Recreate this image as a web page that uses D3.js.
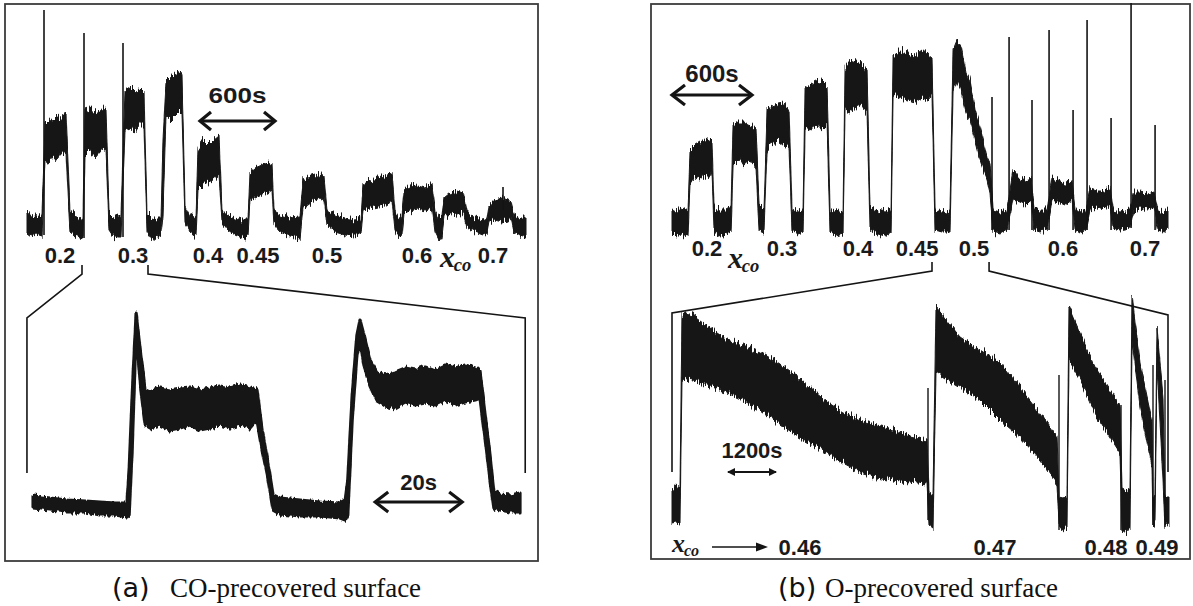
<!DOCTYPE html>
<html>
<head>
<meta charset="utf-8">
<script src="https://cdn.jsdelivr.net/npm/d3@7"></script>
<style>
  body { margin: 0; background: #fff; }
  svg { display: block; }
  .num { font-family: "Liberation Sans", Arial, sans-serif; font-weight: bold; fill: #1a1a1a; }
  .xco { font-family: "Liberation Serif", "Times New Roman", serif; font-style: italic; font-weight: bold; fill: #1a1a1a; }
  .cap { font-family: "Liberation Serif", "Times New Roman", serif; fill: #111; }
  .capTag { font-family: "DejaVu Sans", sans-serif; fill: #111; }
</style>
</head>
<body>
<svg id="fig" width="1193" height="606"></svg>
<script>
// (a) top: time [s], signal low / high envelope [a.u.]
const topA = [
  [0, 7, 28], [32, 4, 23], [72, 6, 24], [120, 4, 26],
  [144, 80, 116], [176, 77, 120], [208, 82, 118], [240, 80, 122], [272, 85, 121], [312, 88, 128],
  [344, 8, 28], [384, 4, 25], [424, 2, 22], [448, 1, 24],
  [464, 85, 130], [504, 90, 132], [544, 82, 128], [584, 88, 130], [632, 92, 133],
  [656, 10, 26], [688, 4, 22], [728, 2, 24], [752, 2, 25],
  [784, 110, 150], [824, 112, 153], [864, 108, 148], [904, 115, 152], [936, 115, 148],
  [960, 8, 27], [1000, 0, 22], [1040, 4, 20], [1072, 6, 20],
  [1088, 25, 100], [1112, 125, 158], [1144, 120, 162], [1184, 125, 165], [1224, 130, 168], [1240, 128, 162],
  [1264, 18, 35], [1304, 8, 25], [1352, 4, 22],
  [1368, 50, 92], [1408, 55, 100], [1448, 58, 95], [1488, 60, 100], [1536, 65, 105],
  [1560, 18, 30], [1608, 10, 25], [1664, 5, 22], [1720, 2, 20], [1768, 4, 20],
  [1784, 40, 68], [1824, 42, 72], [1880, 45, 75], [1928, 47, 77], [1960, 50, 75],
  [1976, 15, 28], [2024, 8, 25], [2104, 4, 22], [2184, 2, 23],
  [2208, 32, 60], [2248, 35, 63], [2304, 40, 65], [2344, 42, 67], [2376, 40, 64],
  [2400, 15, 30], [2464, 8, 25], [2544, 5, 22], [2624, 4, 20], [2672, 8, 22],
  [2688, 30, 55], [2744, 32, 60], [2808, 34, 62], [2864, 35, 64], [2920, 40, 67],
  [2944, 10, 28], [2976, 3, 20], [3000, 4, 25],
  [3016, 28, 50], [3064, 30, 53], [3128, 32, 54], [3184, 30, 52], [3240, 32, 57],
  [3264, 8, 30], [3296, 0, 22], [3320, 4, 25],
  [3336, 22, 42], [3384, 25, 47], [3440, 26, 50], [3488, 28, 48],
  [3520, 12, 28], [3584, 8, 22], [3648, 5, 20], [3680, 7, 22],
  [3696, 18, 35], [3744, 20, 40], [3800, 18, 42], [3848, 20, 40], [3872, 22, 38],
  [3896, 8, 25], [3944, 4, 22], [3992, 2, 22]
];
const topASpikes = [[136, 5, 230], [456, 2, 207], [768, 3, 197], [3808, 30, 53]];
const topALabels = [["0.2", 264], ["0.3", 848], ["0.4", 1448], ["0.45", 1848], ["0.5", 2400], ["0.6", 3120], ["0.7", 3728]];
const topAXco = 3320;

// (a) bottom: zoom on x_co 0.2 - 0.3, time [s]
const bottomA = [
  [0.7, 12, 24], [4.6, 10, 22], [8.5, 8, 20], [12.7, 8, 19], [16.1, 5, 18], [19.6, 5, 17], [22.3, 3, 17],
  [22.8, 5, 50], [23.5, 70, 125], [24.4, 190, 207], [25.5, 130, 165], [26.5, 95, 130],
  [27.6, 92, 128], [29.9, 95, 132], [32.2, 90, 130], [34.5, 92, 132], [36.8, 95, 133], [39.1, 90, 130],
  [41.4, 92, 132], [43.7, 95, 134], [46.0, 92, 132], [48.3, 95, 135], [50.6, 92, 132], [52.2, 100, 130],
  [53.4, 70, 90], [54.7, 42, 58], [55.9, 10, 25],
  [57.5, 6, 22], [62.1, 4, 20], [66.7, 4, 18], [71.3, 2, 17], [72.5, 0, 20],
  [73.1, 5, 40], [74.1, 100, 125], [75.2, 165, 185], [75.9, 180, 200], [76.8, 155, 185], [78.2, 135, 160], [79.8, 120, 148],
  [81.7, 115, 145], [84.0, 112, 148], [86.3, 118, 152], [88.6, 115, 150], [90.9, 117, 154], [93.2, 115, 150],
  [95.5, 120, 155], [97.8, 115, 152], [100.1, 118, 155], [102.4, 120, 152], [103.5, 122, 148],
  [104.7, 80, 105], [105.8, 40, 65], [106.7, 12, 28],
  [108.1, 10, 25], [110.4, 8, 24], [112.7, 8, 26]
];
const zoomA = { top: [440, 968], bottom: [-0.7, 113.9] };

// (b) top
const topB = [
  [15, 8, 30], [45, 4, 28], [83, 6, 32], [135, 4, 28],
  [150, 58, 90], [188, 62, 95], [225, 60, 98], [263, 64, 100], [300, 62, 102], [315, 70, 100],
  [330, 8, 32], [375, 4, 30], [420, 6, 30], [458, 8, 33],
  [473, 75, 115], [510, 80, 118], [555, 75, 118], [600, 80, 115], [645, 72, 112],
  [668, 10, 35], [705, 8, 30],
  [728, 92, 130], [765, 95, 134], [810, 100, 136], [855, 95, 137], [893, 92, 130],
  [915, 10, 32], [960, 6, 29], [998, 8, 30],
  [1013, 112, 152], [1050, 110, 155], [1095, 115, 158], [1140, 110, 160], [1178, 115, 155],
  [1200, 8, 32], [1245, 4, 28], [1298, 6, 30],
  [1313, 130, 172], [1350, 128, 180], [1395, 132, 178], [1440, 135, 176], [1478, 128, 170],
  [1500, 10, 32], [1560, 6, 30], [1613, 4, 28], [1658, 8, 30],
  [1673, 145, 185], [1725, 142, 190], [1785, 140, 188], [1838, 138, 185], [1890, 142, 190], [1935, 140, 185], [1965, 145, 182],
  [1988, 10, 30], [2040, 8, 28], [2100, 8, 30],
  [2123, 150, 190], [2153, 160, 200], [2183, 150, 195], [2220, 128, 168], [2250, 120, 160],
  [2288, 100, 130], [2325, 80, 113], [2378, 60, 83], [2400, 47, 77],
  [2423, 8, 30], [2475, 6, 28], [2528, 10, 30],
  [2573, 40, 70], [2625, 38, 62], [2670, 35, 60], [2708, 40, 62],
  [2730, 10, 32], [2775, 8, 30], [2828, 10, 30],
  [2865, 40, 62], [2910, 38, 60], [2963, 35, 57], [3015, 40, 58],
  [3038, 10, 32], [3075, 7, 28], [3120, 10, 30],
  [3150, 30, 52], [3203, 32, 50], [3255, 30, 50], [3300, 35, 52],
  [3323, 12, 30], [3375, 10, 28], [3450, 12, 30],
  [3480, 30, 48], [3525, 32, 48], [3585, 30, 46], [3630, 32, 48],
  [3660, 10, 30], [3698, 8, 28], [3735, 12, 30]
];
const topBSpikes = [
  [2415, 10, 143], [2543, 10, 203], [2715, 10, 140], [2843, 10, 210], [3023, 10, 130],
  [3128, 10, 220], [3308, 10, 122], [3458, 12, 237], [3638, 10, 115]
];
const topBLabels = [["0.2", 278], ["0.3", 840], ["0.4", 1410], ["0.45", 1853], ["0.5", 2280], ["0.6", 2948], ["0.7", 3563]];
const topBXco = 435;

// (b) bottom: zoom on x_co 0.46 - 0.49
const bottomB = [
  [48, 7, 40], [144, 8, 43], [240, 7, 40],
  [288, 152, 217], [552, 150, 214], [960, 144, 202], [1368, 137, 190], [1752, 130, 185], [2160, 120, 178],
  [2568, 108, 168], [2952, 97, 157], [3360, 87, 142], [3768, 77, 128], [4152, 67, 118], [4560, 58, 110],
  [4968, 53, 104], [5352, 50, 100], [5760, 48, 94], [6168, 46, 90],
  [6216, 5, 37], [6312, 2, 35],
  [6384, 158, 223], [6600, 152, 212], [6960, 143, 193], [7440, 130, 180], [7920, 110, 167],
  [8400, 93, 143], [8880, 70, 117], [9288, 47, 93],
  [9336, 2, 33], [9432, 0, 32], [9528, 3, 34],
  [9576, 170, 223], [9840, 150, 197], [10200, 117, 163], [10560, 93, 140], [10800, 77, 123],
  [10848, 0, 42], [10944, -3, 40], [11040, 2, 42],
  [11088, 190, 235], [11280, 123, 167], [11568, 63, 110],
  [11592, 5, 33], [11640, 8, 32],
  [11688, 167, 203], [11832, 50, 133],
  [11880, 3, 33], [11976, 5, 33]
];
const bottomBSpikes = [[6192, 10, 142], [9336, 0, 155], [10824, 0, 125], [11592, 5, 165], [11880, 3, 150]];
const bottomBLabels = [["0.46", 3120], ["0.47", 7800], ["0.48", 10464], ["0.49", 11688]];
const bottomBArrow = [1008, 2352];
const zoomB = { top: [1965, 2393], bottom: [48, 11952] };

// time bars
const barA600 = [1384, 600];
const barA20 = [79.4, 20];
const barB600 = [15, 600];
const barB1200 = [1368, 1200];

const ink = "#141414";
const svg = d3.select("#fig");

// measured traces are noisy: roughen the band edges vertically
const defs = svg.append("defs");
function roughFilter(id, freq, amount) {
  const f = defs.append("filter").attr("id", id).attr("filterUnits", "userSpaceOnUse")
    .attr("x", 0).attr("y", 0).attr("width", 1193).attr("height", 606);
  f.append("feTurbulence").attr("type", "fractalNoise").attr("baseFrequency", freq)
    .attr("numOctaves", 2).attr("seed", 3).attr("result", "noise");
  f.append("feColorMatrix").attr("in", "noise").attr("type", "matrix")
    .attr("values", "0 0 0 0 0.5  0 1 0 0 0  0 0 1 0 0  0 0 0 0 1").attr("result", "vnoise");
  f.append("feDisplacementMap").attr("in", "SourceGraphic").attr("in2", "vnoise")
    .attr("scale", amount).attr("xChannelSelector", "R").attr("yChannelSelector", "G");
}
roughFilter("rough", "0.9 0.03", 14);
roughFilter("roughThick", "0.5 0.05", 7);

const xTopA = d3.scaleLinear().domain([0, 4000]).range([27, 527]);
const yTopA = d3.scaleLinear().domain([0, 240]).range([240, 0]);
const xBotA = d3.scaleLinear().domain([0, 115]).range([30, 530]);
const yBotA = d3.scaleLinear().domain([0, 220]).range([520, 300]);
const xTopB = d3.scaleLinear().domain([0, 3750]).range([670, 1170]);
const yTopB = d3.scaleLinear().domain([0, 240]).range([240, 0]);
const xBotB = d3.scaleLinear().domain([0, 12000]).range([670, 1170]);
const yBotB = d3.scaleLinear().domain([0, 240]).range([530, 290]);

function band(data, x, y, width, filter) {
  const area = d3.area().x((d) => x(d[0])).y0((d) => y(d[1])).y1((d) => y(d[2]));
  svg.append("path").datum(data).attr("d", area)
    .attr("fill", ink).attr("stroke", ink)
    .attr("stroke-width", width).attr("stroke-linejoin", "round")
    .attr("filter", `url(#${filter})`);
}

function spikes(data, x, y, width) {
  svg.append("g").selectAll("line").data(data).join("line")
    .attr("x1", (d) => x(d[0])).attr("x2", (d) => x(d[0]))
    .attr("y1", (d) => y(d[1])).attr("y2", (d) => y(d[2]))
    .attr("stroke", ink).attr("stroke-width", width);
}

function labels(data, x, baseline, size) {
  svg.append("g").selectAll("text").data(data).join("text")
    .attr("class", "num").attr("font-size", size)
    .attr("x", (d) => x(d[1])).attr("y", baseline)
    .attr("text-anchor", "middle").text((d) => d[0]);
}

function xco(px, baseline, size) {
  svg.append("text").attr("class", "xco").attr("font-size", size)
    .attr("x", px).attr("y", baseline).text("x");
  svg.append("text").attr("class", "xco").attr("font-size", size * 0.62)
    .attr("x", px + size * 0.46).attr("y", baseline + size * 0.14).text("co");
}

function timeBar(bar, x, y, label, opts) {
  const x1 = x(bar[0]), x2 = x(bar[0] + bar[1]);
  const h = opts.head, w = opts.half;
  svg.append("line").attr("x1", x1 + 1).attr("x2", x2 - 1).attr("y1", y).attr("y2", y)
    .attr("stroke", ink).attr("stroke-width", opts.width);
  if (opts.filled) {
    svg.append("path").attr("d", `M${x1},${y}L${x1 + h},${y - w}L${x1 + h},${y + w}Z M${x2},${y}L${x2 - h},${y - w}L${x2 - h},${y + w}Z`)
      .attr("fill", ink);
  } else {
    svg.append("path").attr("d", `M${x1 + h},${y - w}L${x1},${y}L${x1 + h},${y + w} M${x2 - h},${y - w}L${x2},${y}L${x2 - h},${y + w}`)
      .attr("fill", "none").attr("stroke", ink).attr("stroke-width", opts.width).attr("stroke-linejoin", "miter");
  }
  const t = svg.append("text").attr("class", "num").attr("font-size", opts.size)
    .attr("x", (x1 + x2) / 2).attr("y", y - opts.gap).attr("text-anchor", "middle").text(label);
  if (opts.textLength) t.attr("textLength", opts.textLength).attr("lengthAdjust", "spacingAndGlyphs");
}

function connector(points) {
  svg.append("path").datum(points).attr("d", d3.line())
    .attr("fill", "none").attr("stroke", ink).attr("stroke-width", 1.6);
}

// frames
svg.append("rect").attr("x", 5).attr("y", 4).attr("width", 533).attr("height", 557)
  .attr("fill", "none").attr("stroke", "#3c3c3c").attr("stroke-width", 1.8);
svg.append("rect").attr("x", 651).attr("y", 4).attr("width", 539).attr("height", 555)
  .attr("fill", "none").attr("stroke", "#3c3c3c").attr("stroke-width", 1.8);

// panel (a)
band(topA, xTopA, yTopA, 1, "rough");
spikes(topASpikes, xTopA, yTopA, 1.6);
labels(topALabels, xTopA, 263, 22);
xco(xTopA(topAXco) - 2, 267, 30);
timeBar(barA600, xTopA, 121, "600s", { head: 11, half: 9, width: 3.2, size: 22, gap: 18, textLength: 58 });

connector([[xTopA(zoomA.top[0]), 265], [xTopA(zoomA.top[0]), 274], [xBotA(zoomA.bottom[0]), 318], [xBotA(zoomA.bottom[0]), 473]]);
connector([[xTopA(zoomA.top[1]), 265], [xTopA(zoomA.top[1]), 274], [xBotA(zoomA.bottom[1]), 318], [xBotA(zoomA.bottom[1]), 473]]);

band(bottomA, xBotA, yBotA, 3.2, "roughThick");
timeBar(barA20, xBotA, 502, "20s", { head: 13, half: 10, width: 3.2, size: 22, gap: 12 });

// panel (b)
band(topB, xTopB, yTopB, 1, "rough");
spikes(topBSpikes, xTopB, yTopB, 1.6);
labels(topBLabels, xTopB, 256, 22);
xco(xTopB(topBXco), 268, 30);
timeBar(barB600, xTopB, 95, "600s", { head: 13, half: 10, width: 3.2, size: 24, gap: 13 });

connector([[xTopB(zoomB.top[0]), 262], [xTopB(zoomB.top[0]), 271], [xBotB(zoomB.bottom[0]), 313], [xBotB(zoomB.bottom[0]), 472]]);
connector([[xTopB(zoomB.top[1]), 262], [xTopB(zoomB.top[1]), 271], [xBotB(zoomB.bottom[1]), 315], [xBotB(zoomB.bottom[1]), 472]]);

band(bottomB, xBotB, yBotB, 1, "rough");
spikes(bottomBSpikes, xBotB, yBotB, 1.4);
timeBar(barB1200, xBotB, 472, "1200s", { head: 8, half: 4, width: 2, size: 22, gap: 14, filled: true });
labels(bottomBLabels, xBotB, 555, 22);
xco(xBotB(48), 552, 26);
{
  const a1 = xBotB(bottomBArrow[0]), a2 = xBotB(bottomBArrow[1]);
  svg.append("line").attr("x1", a1).attr("x2", a2 - 8).attr("y1", 547).attr("y2", 547)
    .attr("stroke", ink).attr("stroke-width", 1.6);
  svg.append("path").attr("d", `M${a2},547L${a2 - 12},542.5L${a2 - 12},551.5Z`).attr("fill", ink);
}

// captions
svg.append("text").attr("class", "capTag").attr("font-size", 27).attr("x", 112).attr("y", 597).text("(a)");
svg.append("text").attr("class", "cap").attr("font-size", 27).attr("x", 170).attr("y", 597).text("CO-precovered surface");
svg.append("text").attr("class", "capTag").attr("font-size", 27).attr("x", 778).attr("y", 597).text("(b)");
svg.append("text").attr("class", "cap").attr("font-size", 27).attr("x", 825).attr("y", 597).text("O-precovered surface");
</script>
</body>
</html>
